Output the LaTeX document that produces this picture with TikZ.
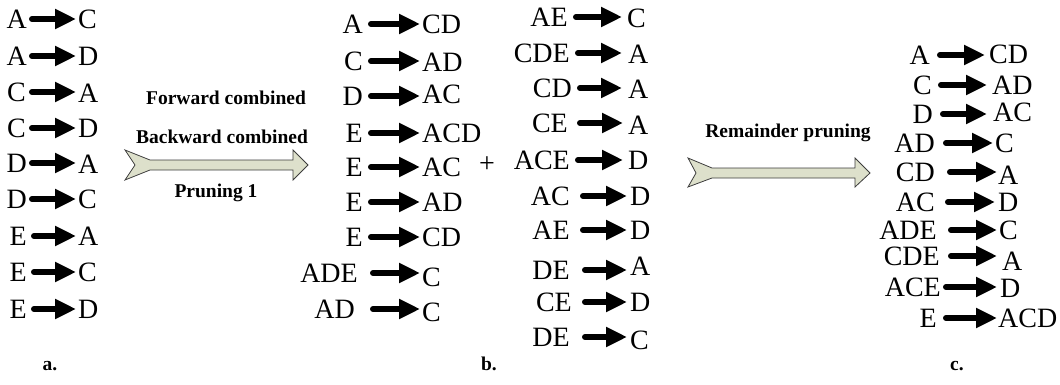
\documentclass[tikz,border=0pt]{standalone}
\usepackage{fontspec}
\setmainfont{Liberation Serif}
\usetikzlibrary{arrows.meta}
\definecolor{blockfill}{RGB}{221,224,203}
\definecolor{blockline}{RGB}{60,60,60}
\tikzset{
  txt/.style={inner sep=0pt, font=\fontsize{28}{30}\selectfont},
  lbl/.style={inner sep=0pt, anchor=base, font=\fontsize{19.5}{22}\selectfont\bfseries},
  arr/.style={line width=6pt, line cap=round, -{Triangle[length=21pt 0 0,width=19pt 0 0]}},
  blockarrow/.style={fill=blockfill, draw=blockline, line width=0.8pt, line join=miter}
}
\newcommand{\rul}[9]{%
  \node[txt, anchor=east] (L#1) at (#3,#4) {#2};
  \node[txt, anchor=west] (R#1) at (#8,#9) {#7};
  \pgfmathsetmacro\myshA{#5-#3+3}%
  \pgfmathsetmacro\myshB{#8-#6}%
  \draw[arr, shorten <=\myshA pt, shorten >=\myshB pt] (L#1.east) -- (L#1.east -| R#1.west);
}
\begin{document}
\begin{tikzpicture}[x=1pt,y=-1pt]
\useasboundingbox (0,0) rectangle (1060,385);
% column a
\rul{a1}{A}{27}{19}{29}{76}{C}{78}{19}
\rul{a2}{A}{27}{56}{29}{76}{D}{78}{56}
\rul{a3}{C}{26}{92}{29}{76}{A}{78}{93}
\rul{a4}{C}{26}{128}{29}{76}{D}{78}{128}
\rul{a5}{D}{27}{163}{29}{76}{A}{78}{164}
\rul{a6}{D}{27}{199}{29}{76}{C}{78}{199}
\rul{a7}{E}{27}{236}{31}{76}{A}{78}{236}
\rul{a8}{E}{27}{272}{31}{76}{C}{78}{272}
\rul{a9}{E}{27}{309}{31}{76}{D}{78}{309}
% column b left
\rul{b1}{A}{363}{24}{368}{420}{CD}{422}{24}
\rul{b2}{C}{363}{61}{368}{420}{AD}{422}{62}
\rul{b3}{D}{363}{96}{368}{420}{AC}{422}{94}
\rul{b4}{E}{363}{133}{368}{420}{ACD}{422}{133}
\rul{b5}{E}{363}{167}{368}{420}{AC}{422}{167}
\rul{b6}{E}{363}{202}{368}{420}{AD}{422}{202}
\rul{b7}{E}{363}{237}{368}{420}{CD}{422}{237}
\rul{b8}{ADE}{358}{273}{370}{420}{C}{422}{277}
\rul{b9}{AD}{355}{309}{370}{420}{C}{422}{312}
% plus
\node[txt] (plus) at (487,165) {+};
% column b right
\rul{d1}{AE}{568}{17}{573}{622}{C}{627}{18}
\rul{d2}{CDE}{570}{53}{575}{622}{A}{628}{54}
\rul{d3}{CD}{572}{88}{577}{622}{A}{628}{89}
\rul{d4}{CE}{568}{123}{577}{623}{A}{628}{125}
\rul{d5}{ACE}{570}{160}{575}{623}{D}{628}{160}
\rul{d6}{AC}{570}{196}{580}{627}{D}{630}{196}
\rul{d7}{AE}{570}{230}{580}{627}{D}{630}{230}
\rul{d8}{DE}{570}{270}{582}{627}{A}{630}{266}
\rul{d9}{CE}{572}{302}{582}{627}{D}{630}{302}
\rul{d10}{DE}{570}{337}{582}{627}{C}{630}{340}
% column c
\rul{c1}{A}{930}{55}{937}{985}{CD}{989}{54}
\rul{c2}{C}{932}{85}{938}{987}{AD}{992}{85}
\rul{c3}{D}{933}{114}{940}{987}{AC}{993}{112}
\rul{c4}{AD}{935}{143}{943}{993}{C}{995}{143}
\rul{c5}{CD}{935}{172}{947}{997}{A}{998}{175}
\rul{c6}{AC}{935}{202}{945}{995}{D}{998}{202}
\rul{c7}{ADE}{937}{230}{948}{997}{C}{999}{230}
\rul{c8}{CDE}{940}{256}{948}{997}{A}{1002}{261}
\rul{c9}{ACE}{941}{287}{943}{997}{D}{1000}{288}
\rul{c10}{E}{937}{318}{943}{997}{ACD}{998}{318}
% block arrows
\draw[blockarrow] (125,150) -- (150,160) -- (293,160) -- (293,150) -- (308,165)
  -- (293,180) -- (293,170) -- (150,170) -- (125,180) -- (135,165) -- cycle;
\draw[blockarrow] (688,158) -- (712,168) -- (855,168) -- (855,158) -- (870,173)
  -- (855,187) -- (855,178) -- (712,178) -- (688,187) -- (696,173) -- cycle;
% step texts
\node[lbl] (fwd) at (226,105) {Forward combined};
\node[lbl] (bwd) at (222,144) {Backward combined};
\node[lbl] (pr1) at (216,197) {Pruning 1};
\node[lbl] (rem) at (788,138) {Remainder pruning};
% panel labels
\node[lbl] (la) at (50,370) {a.};
\node[lbl] (lb) at (489,370) {b.};
\node[lbl] (lc) at (957,370) {c.};
\end{tikzpicture}
\end{document}
